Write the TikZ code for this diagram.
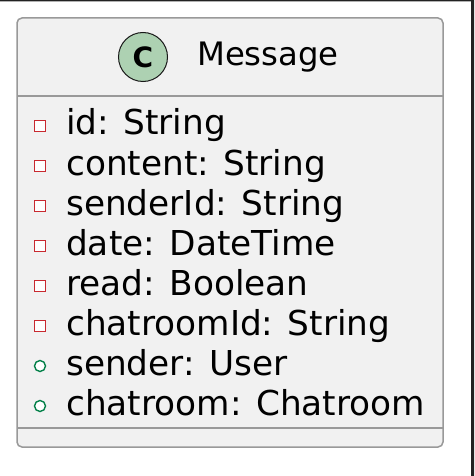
\documentclass[tikz,border=0pt]{standalone}
\usepackage{fontspec}
\setmainfont{DejaVu Sans}
\definecolor{boxfill}{HTML}{F1F1F1}
\definecolor{boxline}{HTML}{999999}
\definecolor{classgreen}{HTML}{ADD1B2}
\definecolor{privred}{HTML}{C82930}
\definecolor{pubgreen}{HTML}{038048}
\definecolor{frame}{HTML}{222222}
\tikzset{
	field/.style={anchor=base west, inner sep=0pt, font=\fontsize{34.3}{40}\selectfont},
	private/.style={draw=privred, line width=1.4pt, fill=white, minimum size=11.5pt, inner sep=0pt},
	public/.style={circle, draw=pubgreen, line width=1.4pt, fill=white, minimum size=11pt, inner sep=0pt}
}
\begin{document}
\begin{tikzpicture}[x=1pt,y=-1pt]
			\useasboundingbox (0,0) rectangle (474,476);
			\fill[white] (0,0) rectangle (474,476);
			\fill[frame] (0,0) rectangle (474,1.5) (471,0) rectangle (474,476);
			\draw[boxline, fill=boxfill, line width=1.5pt, rounded corners=5pt] (17,18) rectangle (443,447);
			\draw[boxline, line width=1.5pt] (17,96) -- (443,96) (17,428) -- (443,428);
			\node[circle, draw=black!90, line width=1pt, fill=classgreen, minimum size=49pt, inner sep=0pt,
				font=\fontsize{28}{28}\selectfont\bfseries] (badge) at (143,57) {C};
			\node[field, font=\fontsize{32.3}{38}\selectfont] (title) at (197,66) {Message};
			\draw
			(40,126) node[private](m1){} (66,135) node[field](f1){id: String}
			(40,166) node[private](m2){} (66,175) node[field](f2){content: String}
			(40,206) node[private](m3){} (66,215) node[field](f3){senderId: String}
			(40,246) node[private](m4){} (66,255) node[field](f4){date: DateTime}
			(40,286) node[private](m5){} (66,295) node[field](f5){read: Boolean}
			(40,326) node[private](m6){} (66,335) node[field](f6){chatroomId: String}
			(40,366) node[public](m7){} (66,375) node[field](f7){sender: User}
			(40,406) node[public](m8){} (66,415) node[field](f8){chatroom: Chatroom};
		\end{tikzpicture}
\end{document}
